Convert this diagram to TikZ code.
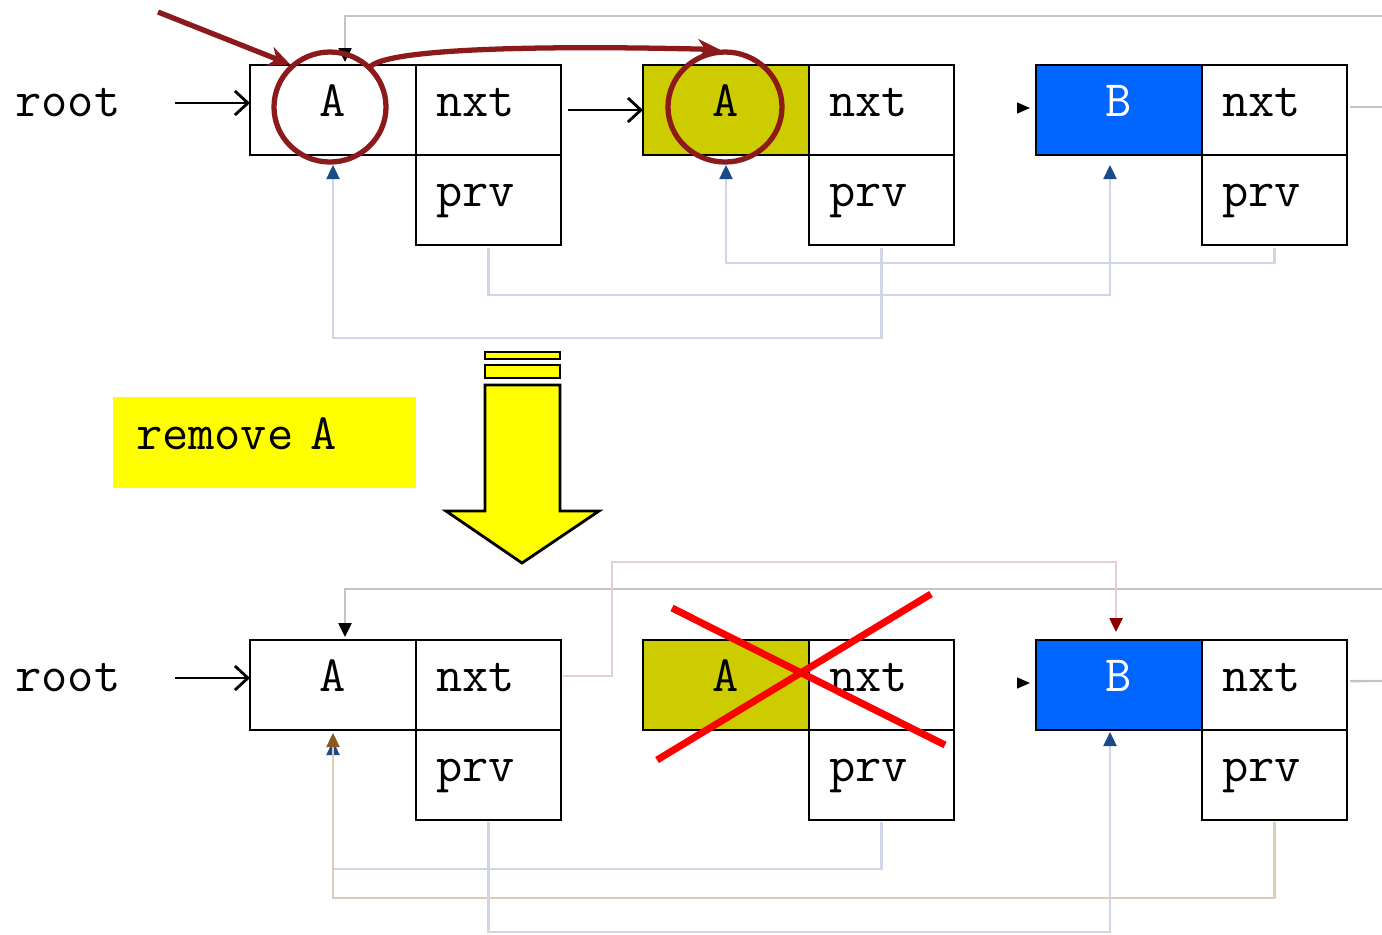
\documentclass[tikz,border=0pt]{standalone}
\usepackage{fontspec}
\usepackage{tikz}
\usetikzlibrary{arrows.meta,positioning,shapes.geometric}
\definecolor{cellolive}{HTML}{CCCC00}
\definecolor{cellblue}{HTML}{0066FF}
\definecolor{labelyellow}{HTML}{FFFF00}
\definecolor{linegray}{HTML}{C4C4C4}
\definecolor{lineblue}{HTML}{CFD6E5}
\definecolor{linepink}{HTML}{E6CFCF}
\definecolor{linetan}{HTML}{DDCBB6}
\definecolor{tipblue}{HTML}{1A4A8A}
\definecolor{tipbrown}{HTML}{8B5A1E}
\definecolor{tipred}{HTML}{8B0000}
\definecolor{penred}{HTML}{8C1A1A}
\definecolor{crossred}{HTML}{FF0000}
\newcommand{\cellfont}{\ttfamily\fontsize{14.5}{16}\selectfont}

\tikzset{
  cellbase/.style={draw,line width=0.7pt,outer sep=0pt,minimum height=0.9cm,
    font=\cellfont,text height=1.8ex,text depth=0.9ex},
  valcell/.style={cellbase,fill=white,minimum width=1.66cm,inner sep=0pt},
  ptrcell/.style={cellbase,fill=white,minimum width=1.45cm,text width=1.05cm,
    align=left,inner xsep=0.2cm,inner ysep=0pt},
  rootlbl/.style={font=\cellfont,inner sep=0pt,text height=1.8ex,text depth=0.9ex},
  ptr/.style={line width=0.8pt,-{Straight Barb[length=0.13cm,width=0.24cm]}},
  link/.style={line width=0.7pt},
  uptip/.style={-{Triangle[color=#1,length=0.14cm,width=0.13cm]}},
  pen/.style={draw=penred,line width=1.5pt},
  cross/.style={crossred,line width=2pt},
  bigarrow/.style={fill=labelyellow,draw=black,line width=0.8pt}
}

\begin{document}
\begin{tikzpicture}[x=1cm,y=-1cm,>=Stealth]
  \useasboundingbox (0,0) rectangle (13.82,9.34);

  % list before
  \node[rootlbl] (rootU) at (0.68,1.10) {root};
  \node[valcell] (upA) at (3.33,1.10) {A};
  \node[ptrcell,right=0pt of upA] (upAn) {nxt};
  \node[ptrcell,below=0pt of upAn] (upAp) {prv};
  \node[valcell,fill=cellolive] (upD) at (7.26,1.10) {A};
  \node[ptrcell,right=0pt of upD] (upDn) {nxt};
  \node[ptrcell,below=0pt of upDn] (upDp) {prv};
  \node[valcell,fill=cellblue,text=white] (upB) at (11.19,1.10) {B};
  \node[ptrcell,right=0pt of upB] (upBn) {nxt};
  \node[ptrcell,below=0pt of upBn] (upBp) {prv};
  \coordinate (inU) at (13.82,0.16);
  \coordinate (outU) at (13.82,1.07);

  \draw[ptr,shorten <=0.54cm] ([yshift=0.07cm]rootU.east) -- ([yshift=0.07cm]upA.west);
  \draw[ptr,shorten <=0.07cm] (upAn) -- (upD);
  \draw[white,-{Triangle[color=black,length=0.13cm,width=0.11cm]},shorten <=0.1cm,shorten >=0.06cm] ([yshift=0.02cm]upDn.east) -- ([yshift=0.02cm]upB.west);
  \draw[link,linegray,shorten <=0.03cm] ([yshift=0.03cm]upBn.east) -- (outU);
  \draw[link,linegray,uptip=black,shorten >=0.03cm] (inU) -| ([xshift=0.12cm]upA.north);
  \draw[link,lineblue,uptip=tipblue,shorten <=0.03cm,shorten >=0.10cm] (upAp.south) -- ++(0,0.50) -| ([xshift=-0.09cm]upB.south);
  \draw[link,lineblue,uptip=tipblue,shorten <=0.03cm,shorten >=0.10cm] (upDp.south) -- ++(0,0.93) -| (upA.south);
  \draw[link,lineblue,uptip=tipblue,shorten <=0.03cm,shorten >=0.10cm] (upBp.south) -- ++(0,0.18) -| (upD.south);

  % pen marks
  \node[pen,ellipse,minimum width=1.12cm,minimum height=1.10cm,inner sep=0pt] (circA) at (3.30,1.07) {};
  \node[pen,ellipse,minimum width=1.14cm,minimum height=1.10cm,inner sep=0pt] (circD) at (7.25,1.07) {};
  \coordinate (penStart) at (1.58,0.12);
  \draw[pen,-{Stealth[length=0.22cm,width=0.2cm]}] (penStart) -- (circA.133);
  \draw[pen,-{Stealth[length=0.22cm,width=0.2cm]}] (circA.45) .. controls +(0.27,-0.21) and +(-1.2,-0.03) .. (circD.95);

  % step
  \node[fill=labelyellow,font=\cellfont,text height=1.8ex,text depth=0.9ex,text width=2.57cm,
    align=left,inner xsep=0.23cm,inner ysep=0pt,minimum height=0.91cm] (removeLbl) at (2.645,4.425) {remove A};
  \filldraw[bigarrow] (4.85,3.52) rectangle (5.60,3.59);
  \filldraw[bigarrow] (4.85,3.65) rectangle (5.60,3.78);
  \filldraw[bigarrow] (4.85,3.85) -- (5.60,3.85) -- (5.60,5.11) -- (5.99,5.11)
    -- (5.22,5.63) -- (4.46,5.11) -- (4.85,5.11) -- cycle;

  % list after
  \node[rootlbl] (rootL) at (0.68,6.85) {root};
  \node[valcell] (loA) at (3.33,6.85) {A};
  \node[ptrcell,right=0pt of loA] (loAn) {nxt};
  \node[ptrcell,below=0pt of loAn] (loAp) {prv};
  \node[valcell,fill=cellolive] (loD) at (7.26,6.85) {A};
  \node[ptrcell,right=0pt of loD] (loDn) {nxt};
  \node[ptrcell,below=0pt of loDn] (loDp) {prv};
  \node[valcell,fill=cellblue,text=white] (loB) at (11.19,6.85) {B};
  \node[ptrcell,right=0pt of loB] (loBn) {nxt};
  \node[ptrcell,below=0pt of loBn] (loBp) {prv};
  \coordinate (inL) at (13.82,5.89);
  \coordinate (outL) at (13.82,6.81);

  \draw[ptr,shorten <=0.54cm] ([yshift=0.07cm]rootL.east) -- ([yshift=0.07cm]loA.west);
  \draw[white,-{Triangle[color=black,length=0.13cm,width=0.11cm]},shorten <=0.1cm,shorten >=0.06cm] ([yshift=0.02cm]loDn.east) -- ([yshift=0.02cm]loB.west);
  \draw[link,linegray,shorten <=0.03cm] ([yshift=0.04cm]loBn.east) -- (outL);
  \draw[link,linegray,uptip=black,shorten >=0.03cm] (inL) -| ([xshift=0.12cm]loA.north);
  \draw[link,linepink,uptip=tipred,shorten <=0.02cm,shorten >=0.08cm] ([yshift=0.09cm]loAn.east) -- ++(0.51,0) -- ++(0,-1.14) -| ([xshift=-0.03cm]loB.north);
  \draw[link,lineblue,uptip=tipblue,shorten <=0.02cm,shorten >=0.11cm] (loDp.south) -- ++(0,0.49) -| (loA.south);
  \draw[link,linetan,uptip=tipbrown,shorten <=0.02cm,shorten >=0.03cm] (loBp.south) -- ++(0,0.78) -| (loA.south);
  \draw[link,lineblue,uptip=tipblue,shorten <=0.02cm,shorten >=0.02cm] (loAp.south) -- ++(0,1.12) -| ([xshift=-0.09cm]loB.south);

  \draw[cross] (6.72,6.08) -- (9.45,7.45);
  \draw[cross] (6.57,7.60) -- (9.31,5.94);
\end{tikzpicture}
\end{document}
